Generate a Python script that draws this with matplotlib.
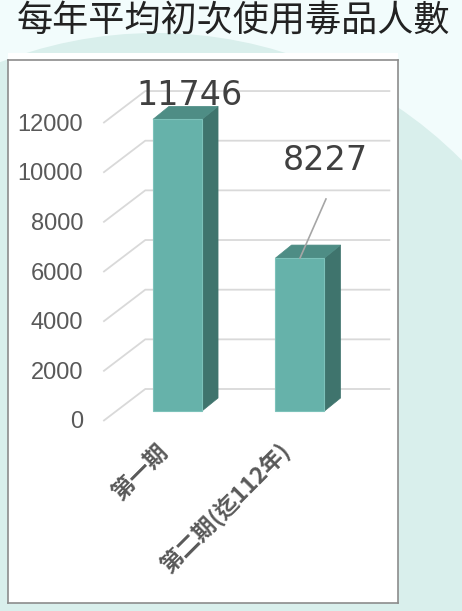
import matplotlib
matplotlib.use('Agg')
import matplotlib.pyplot as plt
from matplotlib.patches import Polygon, Circle, Rectangle

# chart data
title = '每年平均初次使用毒品人數'
categories = ['第一期', '第二期(迄112年)']
bar_heights = [11746, 6160]      # drawn height of each bar as it appears in the picture
bar_labels = ['11746', '8227']   # the label text shown above each bar
y_ticks = [0, 2000, 4000, 6000, 8000, 10000, 12000]

# colours
bg_light = '#f2fcfc'
bg_mint = '#d9efec'
front_c = '#66b2aa'
top_c = '#4e8d85'
side_c = '#3f746d'
grid_c = '#d9d9d9'
tick_c = '#595959'
label_c = '#404040'

# fake 3d geometry (x in category units, y in value units)
half_w = 0.2
wall_dx, wall_dy = 0.343, 1289
bar_ox, bar_oy = 0.106, 403
bar_dx, bar_dy = 0.131, 523

W, H = 462, 611
fig = plt.figure(figsize=(W / 100, H / 100), dpi=100)
fig.patch.set_facecolor(bg_light)

# background layer with the mint circle and the title
bg = fig.add_axes([0, 0, 1, 1])
bg.set_xlim(0, W)
bg.set_ylim(H, 0)
bg.axis('off')
bg.add_patch(Circle((156, 464), 431, color=bg_mint, lw=0))
bg.add_patch(Rectangle((8, 53), 390, 10, color='white', lw=0))
bg.text(233, 21, title, ha='center', va='center', fontsize=26, color='#222222',
        family=['Noto Sans CJK TC', 'DejaVu Sans'])

# chart box
ax = fig.add_axes([8 / W, 1 - 603 / H, 390 / W, 543 / H])
ax.set_facecolor('white')
ax.set_xlim(-1.2776, 1.906)
ax.set_ylim(-7330, 14539)
ax.set_xticks([])
ax.set_yticks([])
for s in ax.spines.values():
    s.set_color('#8c8c8c')
    s.set_linewidth(1.2)

# side wall + back wall gridlines, and tick labels
x_left = -0.5
x_right = len(categories) - 0.5
for v in y_ticks:
    ax.plot([x_left, x_left + wall_dx, x_right + wall_dx], [v, v + wall_dy, v + wall_dy],
            color=grid_c, lw=1.3, zorder=1, solid_capstyle='butt')
    ax.text(-0.665, v - 60, str(v), ha='right', va='center', fontsize=17, color=tick_c,
            family='Liberation Sans')

# bars
for i, h in enumerate(bar_heights):
    x0 = i - half_w + bar_ox
    x1 = i + half_w + bar_ox
    y0 = bar_oy
    y1 = h + bar_oy
    front = Polygon([(x0, y0), (x1, y0), (x1, y1), (x0, y1)], closed=True,
                    facecolor=front_c, edgecolor='#7cc2ba', lw=0.8, zorder=3)
    top = Polygon([(x0, y1), (x1, y1), (x1 + bar_dx, y1 + bar_dy), (x0 + bar_dx, y1 + bar_dy)],
                  closed=True, facecolor=top_c, edgecolor=top_c, lw=0.5, zorder=2)
    side = Polygon([(x1, y0), (x1 + bar_dx, y0 + bar_dy), (x1 + bar_dx, y1 + bar_dy), (x1, y1)],
                   closed=True, facecolor=side_c, edgecolor=side_c, lw=0.5, zorder=2)
    ax.add_patch(side)
    ax.add_patch(top)
    ax.add_patch(front)

    # category label under the floor
    ax.text(i, -1090, categories[i], rotation=45, rotation_mode='anchor', ha='right',
            va='center', fontsize=16.5, fontweight='bold', color=tick_c,
            family=['Noto Sans CJK TC', 'DejaVu Sans'])

# data labels (the second one is pulled away with a leader line)
label_pos = [(0.2, 13090), (1.31, 10510)]
for (lx, ly), txt in zip(label_pos, bar_labels):
    ax.text(lx, ly, txt, ha='center', va='center', fontsize=24, color=label_c,
            family='DejaVu Sans', zorder=5)
ax.plot([1.318, 1 + bar_ox], [8941, bar_heights[1] + bar_oy], color='#a6a6a6', lw=1.2, zorder=4)

fig.savefig('out.png', dpi=100, facecolor=fig.get_facecolor())
